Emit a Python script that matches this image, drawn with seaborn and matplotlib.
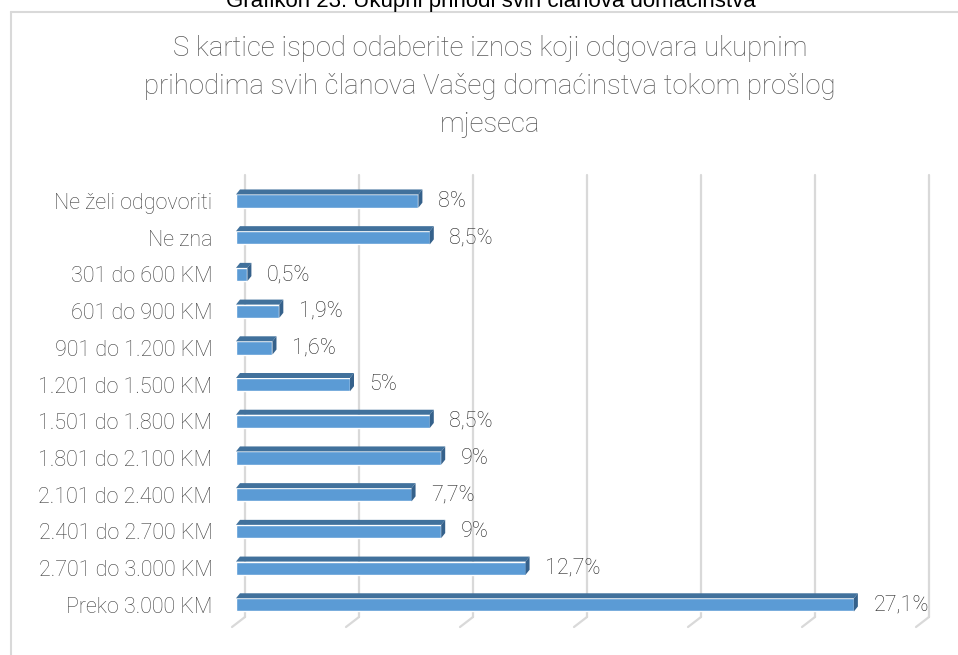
import matplotlib
matplotlib.use("Agg")
import matplotlib.pyplot as plt
import matplotlib.patches as mpatches
from matplotlib.transforms import ScaledTranslation
import seaborn as sns
import pandas as pd

categories = [
    "Ne želi odgovoriti", "Ne zna", "301 do 600 KM", "601 do 900 KM",
    "901 do 1.200 KM", "1.201 do 1.500 KM", "1.501 do 1.800 KM",
    "1.801 do 2.100 KM", "2.101 do 2.400 KM", "2.401 do 2.700 KM",
    "2.701 do 3.000 KM", "Preko 3.000 KM",
]
values = [8, 8.5, 0.5, 1.9, 1.6, 5, 8.5, 9, 7.7, 9, 12.7, 27.1]
grid_ticks = [0, 5, 10, 15, 20, 25, 30]

title = ("S kartice ispod odaberite iznos koji odgovara ukupnim\n"
         "prihodima svih članova Vašeg domaćinstva tokom prošlog\n"
         "mjeseca")
caption = "Grafikon 23: Ukupni prihodi svih članova domaćinstva"

df = pd.DataFrame({"kat": categories, "pct": values})

sns.set_theme(style="white")
plt.rcParams["font.family"] = ["Roboto", "DejaVu Sans"]
plt.rcParams["font.weight"] = "light"

W, H = 958, 655
fig = plt.figure(figsize=(W / 100, H / 100), dpi=100)
ax_l, ax_r, ax_t, ax_b = 236, 920, 175, 617
ax = fig.add_axes([ax_l / W, 1 - ax_b / H, (ax_r - ax_l) / W, (ax_b - ax_t) / H])

front = "#5b9bd5"
top_c = "#41719c"
side_c = "#35618b"

sns.barplot(data=df, x="pct", y="kat", orient="h", color=front,
            width=0.36, saturation=1, ax=ax, zorder=3)

ax.set_xlim(0, 30)
ax.set_ylim(11.33, -0.71)

px_x = (ax_r - ax_l) / 30.0
px_y = (ax_b - ax_t) / (11.33 + 0.71)

# 3D faces
dx = 4 / px_x
dy = 5 / px_y
for p in list(ax.patches):
    x0, y0 = p.get_x(), p.get_y()
    w, h = p.get_width(), p.get_height()
    yt, yb = min(y0, y0 + h), max(y0, y0 + h)
    ax.add_patch(mpatches.Polygon(
        [(x0, yt), (x0 + w, yt), (x0 + w + dx, yt - dy), (x0 + dx, yt - dy)],
        closed=True, facecolor=top_c, edgecolor="none", zorder=3))
    ax.add_patch(mpatches.Polygon(
        [(x0 + w, yt), (x0 + w + dx, yt - dy), (x0 + w + dx, yb - dy), (x0 + w, yb)],
        closed=True, facecolor=side_c, edgecolor="none", zorder=3))

# back-wall gridlines and floor diagonals
shift = ScaledTranslation(9 / 100, 0, fig.dpi_scale_trans)
gtrans = ax.get_xaxis_transform() + shift
for g in grid_ticks:
    ax.plot([g, g], [0, 1], transform=gtrans, color="#d9d9d9", lw=1.6,
            zorder=1, clip_on=False)
    ax.plot([g, g - 13 / px_x], [0, -10 / (ax_b - ax_t)], transform=gtrans,
            color="#d9d9d9", lw=1.6, zorder=1, clip_on=False)

labels = [f"{v:g}".replace(".", ",") + "%" for v in values]
ax.bar_label(ax.containers[0], labels=labels, padding=14, fontsize=15.5,
             color="#262626")

ax.set_xlabel("")
ax.set_ylabel("")
ax.set_xticks([])
ax.tick_params(axis="y", length=0, pad=17, labelsize=15.5, labelcolor="#404040")
for s in ax.spines.values():
    s.set_visible(False)
ax.patch.set_alpha(0)

# chart frame
fig.add_artist(plt.Line2D([11 / W, 11 / W], [0, 1 - 12 / H], color="#d9d9d9",
                          lw=1.5, transform=fig.transFigure))
fig.add_artist(plt.Line2D([11 / W, 1], [1 - 12 / H, 1 - 12 / H], color="#d9d9d9",
                          lw=1.5, transform=fig.transFigure))

fig.text(490 / W, 1 - 35 / H, title, ha="center", va="top", fontsize=19.8,
         color="#595959", linespacing=1.52)
fig.text(491 / W, 1 - 7 / H, caption, ha="center", va="baseline", fontsize=16,
         color="#000000", family=["Liberation Sans", "DejaVu Sans"],
         fontweight="normal")

fig.savefig("out.png", dpi=100)
